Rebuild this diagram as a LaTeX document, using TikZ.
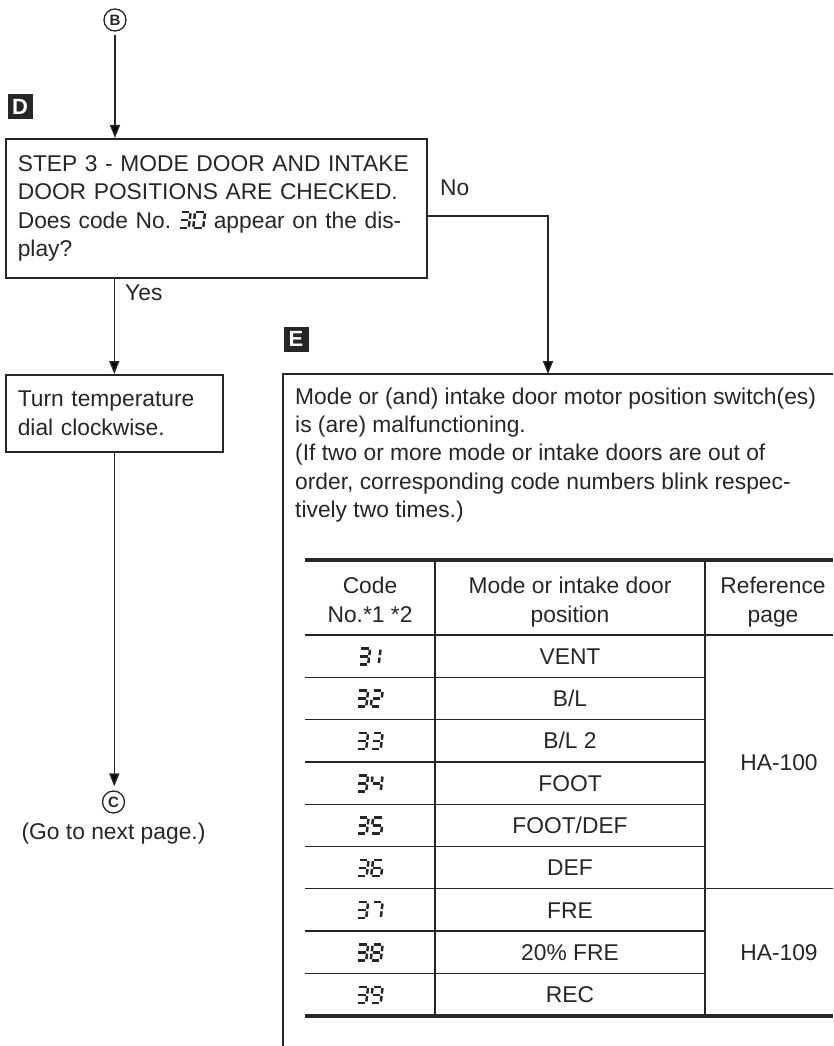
\documentclass[tikz,border=0pt]{standalone}
\usepackage{fontspec}
\setmainfont{Liberation Sans}
\usepackage{tikz}
\usetikzlibrary{arrows.meta, positioning}
\definecolor{ink}{HTML}{262626}
\newcommand{\ftext}{\fontsize{22.8}{28.3}\selectfont}

% seven-segment display digits
\newcommand{\segA}{\draw (1.3,16)--(8.7,16);}
\newcommand{\segB}{\draw (10,14.7)--(10,9.2);}
\newcommand{\segC}{\draw (10,6.8)--(10,1.3);}
\newcommand{\segD}{\draw (1.3,0)--(8.7,0);}
\newcommand{\segE}{\draw (0,1.3)--(0,6.8);}
\newcommand{\segF}{\draw (0,9.2)--(0,14.7);}
\newcommand{\segG}{\draw (1.3,8)--(8.7,8);}
\expandafter\def\csname lcdd0\endcsname{\segA\segB\segC\segD\segE\segF}
\expandafter\def\csname lcdd1\endcsname{\begin{scope}[xshift=-4pt]\segB\segC\end{scope}}
\expandafter\def\csname lcdd2\endcsname{\segA\segB\segG\segE\segD}
\expandafter\def\csname lcdd3\endcsname{\segA\segB\segG\segC\segD}
\expandafter\def\csname lcdd4\endcsname{\segF\segG\segB\segC}
\expandafter\def\csname lcdd5\endcsname{\segA\segF\segG\segC\segD}
\expandafter\def\csname lcdd6\endcsname{\segA\segF\segG\segE\segD\segC}
\expandafter\def\csname lcdd7\endcsname{\segA\segB\segC}
\expandafter\def\csname lcdd8\endcsname{\segA\segB\segC\segD\segE\segF\segG}
\expandafter\def\csname lcdd9\endcsname{\segA\segB\segC\segD\segF\segG}
\newcommand{\lcddigit}[1]{\csname lcdd#1\endcsname}
\newcommand{\lcd}[2]{\tikz[x=1pt,y=1pt,baseline=0pt,xslant=0.12,line width=2.5pt,color=ink]{%
  \lcddigit{#1}\begin{scope}[xshift=14.5pt]\lcddigit{#2}\end{scope}}}

\begin{document}
\begin{tikzpicture}[
    x=1pt, y=-1pt,
    flowbox/.style={draw=ink, line width=1.6pt, anchor=north west, align=left,
                    inner xsep=12pt, font=\ftext, text=ink},
    lbl/.style={anchor=base west, inner sep=0pt, font=\ftext, text=ink},
    arr/.style={draw=ink, line width=1.6pt, -{Triangle[length=13pt,width=10pt]}},
    conn/.style={draw=ink, line width=1.6pt},
    tagbox/.style={fill=ink, text=white, minimum width=25pt, minimum height=25pt,
                   inner sep=0pt, font=\fontsize{22}{22}\selectfont\bfseries},
    circlab/.style={circle, draw=ink, line width=1.3pt, minimum size=22pt,
                    inner sep=0pt, font=\fontsize{15}{15}\selectfont\bfseries, text=ink},
    hcell/.style={anchor=north, align=center, inner sep=0pt, font=\ftext, text=ink},
    cell/.style={inner sep=0pt, font=\ftext, text=ink, text height=16.4pt, text depth=0pt},
    thinrule/.style={draw=ink, line width=1.3pt},
    thickrule/.style={draw=ink, line width=3.6pt},
]
  \useasboundingbox (0,0) rectangle (833,1046);

  % entry from B
  \node[circlab] (inB) at (115,20) {B};
  \node[tagbox] (tagD) at (20,107) {D};

  % step 3
  \node[flowbox, text width=397pt, minimum height=139pt] (step) at (5,138)
    {STEP 3 - MODE DOOR AND INTAKE\\DOOR POSITIONS ARE CHECKED.\\Does code No.~\lcd{3}{0} appear on the dis-\\play?};
  \draw[arr, shorten <=3pt] (inB) -- (inB |- step.north);

  % Yes branch
  \node[flowbox, text width=193pt, minimum height=77pt] (turn) at (5,374)
    {Turn temperature\\dial clockwise.};
  \draw[arr] (step.south -| turn.north) -- (turn.north);
  \node[lbl] (yes) at (125,300) {Yes};

  \node[circlab] (outC) at (113.5,802) {C};
  \draw[arr, shorten >=4pt] (turn.south) -- (turn.south |- outC.north);
  \node[font=\ftext, text=ink, anchor=base] (next) at (113.5,839) {(Go to next page.)};

  % No branch
  \coordinate (etop) at (548,374);
  \node[lbl] (no) at (440,195) {No};
  \draw[arr] ([yshift=-7.5pt]step.east) -| (etop);

  \node[tagbox] (tagE) at (296,339) {E};
  \draw[conn] (833,374) -- (283,374) -- (283,1046);
  \node[anchor=north west, align=left, inner sep=0pt, font=\ftext, text=ink] (emsg) at (295,387.5)
    {Mode or (and) intake door motor position switch(es)\\is (are) malfunctioning.\\(If two or more mode or intake doors are out of\\order, corresponding code numbers blink respec-\\tively two times.)};

  % code table
  \draw[thickrule] (305,560) -- (833,560);
  \draw[thinrule] (305,635) -- (833,635);
  \foreach \i in {1,...,8}
    \draw[thinrule] (305,635+42.3*\i) -- (705,635+42.3*\i);
  \draw[thinrule] (705,888.8) -- (833,888.8);
  \draw[thinrule] (435,560) -- (435,1015.7);
  \draw[thinrule] (705,560) -- (705,1015.7);
  \draw[thickrule] (305,1015.7) -- (833,1015.7);

  \node[hcell] (hcode) at (370,577) {Code\\No.*1 *2};
  \node[hcell] (hpos) at (570,577) {Mode or intake door\\position};
  \node[hcell] (href) at (773,577) {Reference\\page};

  \foreach \dg/\pos [count=\i] in {1/VENT, 2/{B/L}, 3/{B/L 2}, 4/FOOT, 5/{FOOT/DEF},
                                   6/DEF, 7/FRE, 8/{20\% FRE}, 9/REC}{
    \node[cell] (code\i) at (370,635+42.3*\i-21.15) {\lcd{3}{\dg}};
    \node[cell] (pos\i) at (570,635+42.3*\i-21.15) {\pos};
  }
  \node[cell] (ref1) at (779,761.9) {HA-100};
  \node[cell] (ref2) at (779,952.3) {HA-109};
\end{tikzpicture}
\end{document}
